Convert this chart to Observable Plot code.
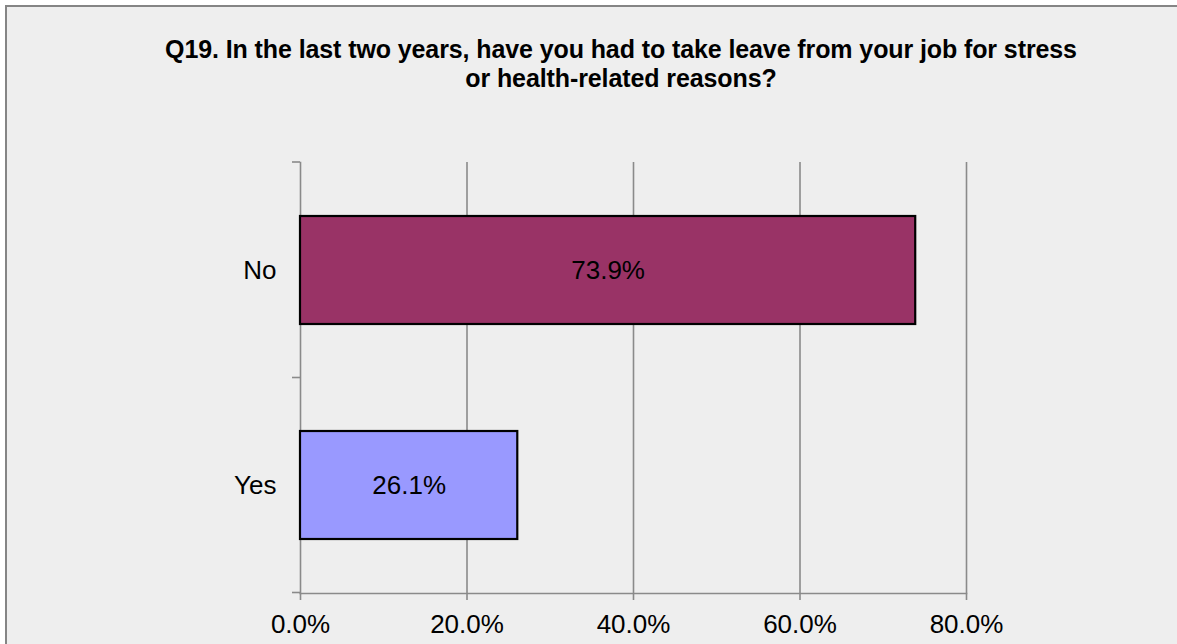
<!DOCTYPE html>
<html>
<head>
<meta charset="utf-8">
<script src="https://cdn.jsdelivr.net/npm/d3@7"></script>
<script src="https://cdn.jsdelivr.net/npm/@observablehq/plot@0.6"></script>
<style>
  html, body { margin: 0; padding: 0; background: #ffffff; width: 1177px; height: 644px; overflow: hidden; }
  #frame { position: absolute; left: 5px; top: 5px; width: 1200px; height: 700px; background: #eeeeee;
           border-top: 2px solid #858585; border-left: 2px solid #858585; }
  #title { position: absolute; left: 71px; width: 1100px; top: 35px; text-align: center;
           font-family: "Liberation Sans", Arial, sans-serif; font-weight: bold; font-size: 25px;
           line-height: 29px; color: #000; letter-spacing: -0.1px; }
  #chart { position: absolute; left: 0; top: 0; }
</style>
</head>
<body>
<div id="frame"></div>
<div id="title">Q19. In the last two years, have you had to take leave from your job for stress<br>or health-related reasons?</div>
<div id="chart"></div>
<script>
const categories = ["No", "Yes"];
const values = [73.9, 26.1];
const colors = ["#993366", "#9999FF"];
const xTicks = [0, 20, 40, 60, 80];
const xDomain = [0, 80];

const data = categories.map((c, i) => ({category: c, value: values[i]}));
const fmt = d => d.toFixed(1) + "%";
const axisColor = "#8a8a8a";

const chart = Plot.plot({
  width: 1177,
  height: 644,
  marginLeft: 300,
  marginRight: 211,
  marginTop: 162,
  marginBottom: 51,
  style: {background: "transparent", fontFamily: "'Liberation Sans', Arial, sans-serif", color: "#000"},
  x: {domain: xDomain, ticks: xTicks, label: null},
  y: {type: "band", domain: categories, paddingInner: 0.5, paddingOuter: 0.25, label: null},
  color: {domain: categories, range: colors},
  marks: [
    Plot.gridX(xTicks.filter(t => t > 0), {stroke: axisColor, strokeOpacity: 1, strokeWidth: 1.6}),
    Plot.frame({anchor: "left", stroke: axisColor, strokeWidth: 1.6}),
    Plot.frame({anchor: "bottom", stroke: axisColor, strokeWidth: 1.6}),
    Plot.axisX(xTicks, {tickFormat: fmt, tickSize: 7, tickPadding: 14, fontSize: 26, stroke: axisColor, strokeWidth: 1.6, fill: "#000", label: null}),
    Plot.axisY({tickSize: 0, tickPadding: 24, fontSize: 26, fill: "#000", label: null}),
    Plot.barX(data, {x: "value", y: "category", fill: "category", stroke: "#000", strokeWidth: 2.2}),
    Plot.text(data, {x: d => d.value / 2, y: "category", text: d => fmt(d.value), fontSize: 26, fill: "#000"})
  ]
});

// category boundary ticks on the y axis, placed from the y band scale
const ys = chart.scale("y");
const xs = chart.scale("x");
const x0 = xs.apply(xDomain[0]);
const bounds = [ys.range[0]].concat(categories.map(c => ys.apply(c) + ys.bandwidth / 2 + ys.step / 2));
d3.select(chart).append("g")
  .selectAll("line").data(bounds).join("line")
  .attr("x1", x0 - 8).attr("x2", x0)
  .attr("y1", d => d).attr("y2", d => d)
  .attr("stroke", axisColor).attr("stroke-width", 1.6);

document.getElementById("chart").appendChild(chart);
</script>
</body>
</html>
